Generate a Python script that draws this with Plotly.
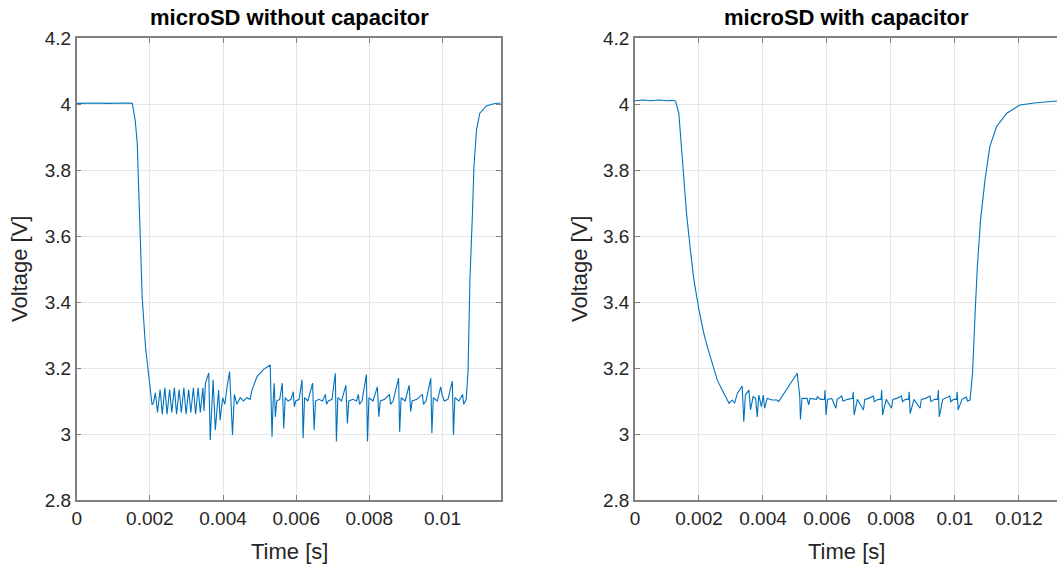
import plotly.graph_objects as go

# ---------------- data (time in ms, voltage in V) ----------------
left_title = "microSD without capacitor"
right_title = "microSD with capacitor"

left_time_ms = [
    0.00, 0.20, 0.40, 0.60, 0.80, 1.00, 1.20, 1.40, 1.52,
    1.60, 1.655, 1.727, 1.79, 1.88, 1.97, 2.06,
    2.10, 2.15, 2.21, 2.28, 2.34, 2.41, 2.47, 2.54, 2.60, 2.67, 2.73, 2.80,
    2.86, 2.93, 2.99, 3.06, 3.12, 3.19, 3.25, 3.32, 3.38, 3.45, 3.48,
    3.52, 3.61, 3.65, 3.73, 3.79, 3.88, 3.92, 3.99, 4.05, 4.11, 4.18, 4.26,
    4.31, 4.38, 4.47, 4.56, 4.65, 4.74, 4.79, 4.93, 5.11, 5.29, 5.34,
    5.37, 5.40, 5.43, 5.47, 5.55, 5.62, 5.66, 5.70, 5.78, 5.86, 5.92, 5.95,
    5.99, 6.08, 6.16, 6.19, 6.23, 6.32, 6.45, 6.49, 6.53, 6.62, 6.72, 6.80,
    6.83, 6.88, 6.98, 7.07, 7.10, 7.14, 7.24, 7.36, 7.40, 7.44, 7.55, 7.65,
    7.70, 7.73, 7.80, 7.92, 7.95, 7.99, 8.10, 8.22, 8.26, 8.30, 8.42, 8.55,
    8.58, 8.65, 8.80, 8.83, 8.87, 8.98, 9.09, 9.13, 9.17, 9.30, 9.45, 9.48,
    9.55, 9.68, 9.71, 9.75, 9.86, 9.95, 9.99, 10.05, 10.15, 10.27, 10.30,
    10.34, 10.45, 10.55, 10.58, 10.65,
    10.70, 10.75, 10.82, 10.86, 10.93, 11.02, 11.20, 11.40, 11.59,
]
left_voltage = [
    4.002, 4.003, 4.002, 4.003, 4.002, 4.003, 4.002, 4.003, 4.002,
    3.95, 3.881, 3.618, 3.416, 3.265, 3.174, 3.088,
    3.095, 3.125, 3.065, 3.135, 3.06, 3.14, 3.06, 3.135, 3.065, 3.14, 3.06, 3.135,
    3.065, 3.14, 3.06, 3.135, 3.065, 3.14, 3.06, 3.14, 3.065, 3.14, 3.07,
    3.154, 3.185, 2.982, 3.164, 3.012, 3.133, 3.042, 3.11, 3.09, 3.143, 3.189, 2.997,
    3.12, 3.09, 3.11, 3.10, 3.11, 3.105, 3.133, 3.174, 3.196, 3.209, 2.992,
    3.10, 3.154, 3.052, 3.10, 3.105, 3.154, 3.017, 3.11, 3.10, 3.105, 3.128, 3.083,
    3.10, 3.105, 3.164, 2.987, 3.11, 3.10, 3.154, 3.012, 3.10, 3.105, 3.10, 3.12,
    3.09, 3.10, 3.105, 3.184, 2.977, 3.11, 3.10, 3.148, 3.032, 3.10, 3.105, 3.10,
    3.12, 3.09, 3.10, 3.18, 2.977, 3.11, 3.10, 3.143, 3.052, 3.10, 3.105, 3.12,
    3.09, 3.10, 3.169, 3.007, 3.11, 3.10, 3.148, 3.068, 3.10, 3.105, 3.12, 3.09,
    3.10, 3.169, 3.002, 3.11, 3.10, 3.143, 3.118, 3.10, 3.105, 3.16, 2.997,
    3.11, 3.10, 3.12, 3.09, 3.105,
    3.194, 3.467, 3.669, 3.81, 3.921, 3.972, 3.994, 4.001, 4.003,
]

right_time_ms = [
    0.00, 0.25, 0.50, 0.75, 1.00, 1.20, 1.27,
    1.37, 1.45, 1.53, 1.61, 1.72, 1.84, 2.00, 2.15, 2.26, 2.36, 2.57, 2.78, 2.94,
    3.04, 3.11, 3.20, 3.35, 3.40, 3.45, 3.56, 3.61, 3.69, 3.77, 3.82, 3.87,
    3.95, 4.01, 4.05, 4.13, 4.29, 4.44, 4.49, 4.70, 4.86, 5.07, 5.15, 5.17,
    5.22, 5.38, 5.43, 5.47, 5.67, 5.70, 5.80,
    5.92, 5.94, 5.97, 6.02, 6.15, 6.28, 6.32, 6.46, 6.50, 6.65, 6.80, 6.82, 6.85,
    6.95, 7.14, 7.18, 7.30, 7.45, 7.48, 7.60, 7.69, 7.71, 7.74, 7.85, 8.02, 8.06,
    8.18, 8.33, 8.36, 8.45, 8.55, 8.57, 8.60, 8.72, 8.91, 8.95, 9.08, 9.22, 9.25,
    9.36, 9.46, 9.48, 9.51, 9.62, 9.84, 9.87, 9.96, 10.05, 10.07, 10.10, 10.22,
    10.36, 10.39,
    10.47, 10.55, 10.63, 10.70, 10.80, 10.94, 11.09, 11.30, 11.62, 12.03, 12.55,
    13.13, 13.19,
]
right_voltage = [
    4.010, 4.012, 4.010, 4.012, 4.010, 4.011, 4.008,
    3.972, 3.871, 3.77, 3.669, 3.568, 3.467, 3.376, 3.305, 3.265, 3.234, 3.164, 3.123, 3.093,
    3.103, 3.093, 3.123, 3.145, 3.037, 3.118, 3.133, 3.073, 3.113, 3.108, 3.052, 3.118,
    3.083, 3.118, 3.078, 3.108, 3.103, 3.103, 3.098, 3.128, 3.154, 3.184, 3.113, 3.044,
    3.108, 3.108, 3.088, 3.108, 3.105, 3.113, 3.105,
    3.105, 3.133, 3.058, 3.105, 3.108, 3.078, 3.105, 3.115, 3.100, 3.105, 3.108, 3.128, 3.058,
    3.105, 3.073, 3.105, 3.108, 3.115, 3.098, 3.105, 3.105, 3.133, 3.058, 3.105, 3.078, 3.105,
    3.108, 3.115, 3.098, 3.105, 3.105, 3.128, 3.062, 3.105, 3.078, 3.105, 3.108, 3.115, 3.098,
    3.105, 3.105, 3.133, 3.052, 3.105, 3.115, 3.098, 3.105, 3.105, 3.128, 3.073, 3.105,
    3.112, 3.100,
    3.103, 3.184, 3.366, 3.507, 3.648, 3.77, 3.871, 3.931, 3.972, 3.997, 4.004,
    4.008, 4.009,
]

y_ticks = [2.8, 3.0, 3.2, 3.4, 3.6, 3.8, 4.0, 4.2]
y_ticktext = ["2.8", "3", "3.2", "3.4", "3.6", "3.8", "4", "4.2"]
left_x_ticks = [0, 0.002, 0.004, 0.006, 0.008, 0.01]
left_x_ticktext = ["0", "0.002", "0.004", "0.006", "0.008", "0.01"]
right_x_ticks = [0, 0.002, 0.004, 0.006, 0.008, 0.01, 0.012]
right_x_ticktext = ["0", "0.002", "0.004", "0.006", "0.008", "0.01", "0.012"]
left_x_range = [0, 0.0116]
right_x_range = [0, 0.01319]
y_range = [2.8, 4.2]

# ---------------- figure ----------------
W, H = 1057, 567
FONT = "Liberation Sans, Arial, Helvetica, sans-serif"
LINE = "#0072BD"
AXC = "#808080"
GRID = "#e6e6e6"
TXT = "#262626"

fig = go.Figure()
fig.add_trace(go.Scatter(x=[t / 1000 for t in left_time_ms], y=left_voltage,
                         mode="lines", line=dict(color=LINE, width=1.1),
                         xaxis="x", yaxis="y", showlegend=False))
fig.add_trace(go.Scatter(x=[t / 1000 for t in right_time_ms], y=right_voltage,
                         mode="lines", line=dict(color=LINE, width=1.1),
                         xaxis="x2", yaxis="y2", showlegend=False))

def px(x):
    return x / W

def py(y):
    return (H - y) / H

common = dict(showgrid=True, gridcolor=GRID, gridwidth=1.2, zeroline=False,
              showline=True, linecolor=AXC, linewidth=1.5,
              ticks="inside", ticklen=5, tickcolor=AXC, tickwidth=1.3,
              tickfont=dict(family=FONT, size=19, color=TXT), automargin=False)

fig.update_layout(
    width=W, height=H, autosize=False, margin=dict(l=0, r=0, t=0, b=0, pad=0),
    paper_bgcolor="white", plot_bgcolor="white",
    xaxis=dict(domain=[px(76.7), px(501)], range=left_x_range, tickmode="array",
               tickvals=left_x_ticks, ticktext=left_x_ticktext, anchor="y",
               mirror="ticks", **common),
    yaxis=dict(domain=[py(500), py(38)], range=y_range, tickmode="array",
               tickvals=y_ticks, ticktext=y_ticktext, anchor="x",
               mirror="ticks", **common),
    xaxis2=dict(domain=[px(635), 1.0], range=right_x_range, tickmode="array",
                tickvals=right_x_ticks, ticktext=right_x_ticktext, anchor="y2",
                mirror="ticks", **common),
    yaxis2=dict(domain=[py(500), py(38)], range=y_range, tickmode="array",
                tickvals=y_ticks, ticktext=y_ticktext, anchor="x2",
                mirror=False, **common),
)

ann = []
ann.append(dict(text="<b>" + left_title + "</b>", x=px(289), y=py(17), xref="paper", yref="paper",
                showarrow=False, xanchor="center", yanchor="middle",
                font=dict(family=FONT, size=22, color="black")))
ann.append(dict(text="<b>" + right_title + "</b>", x=px(846), y=py(17), xref="paper", yref="paper",
                showarrow=False, xanchor="center", yanchor="middle",
                font=dict(family=FONT, size=22, color="black")))
for cx in (289, 846):
    ann.append(dict(text="Time [s]", x=px(cx), y=py(551), xref="paper", yref="paper",
                    showarrow=False, xanchor="center", yanchor="middle",
                    font=dict(family=FONT, size=22, color=TXT)))
for cx in (19, 579):
    ann.append(dict(text="Voltage [V]", x=px(cx), y=py(269), xref="paper", yref="paper",
                    showarrow=False, xanchor="center", yanchor="middle", textangle=-90,
                    font=dict(family=FONT, size=22, color=TXT)))
fig.update_layout(annotations=ann)

post = (
    "document.documentElement.style.margin='0';"
    "document.documentElement.style.padding='0';"
    "document.body.style.margin='0';"
    "document.body.style.padding='0';"
    "document.body.style.overflow='hidden';"
    "var gd=document.getElementById('{plot_id}');"
    "Plotly.relayout(gd,{width:window.innerWidth,height:window.innerHeight});"
)
fig.write_html("out.html", config={"displayModeBar": False, "responsive": False},
               post_script=post)
